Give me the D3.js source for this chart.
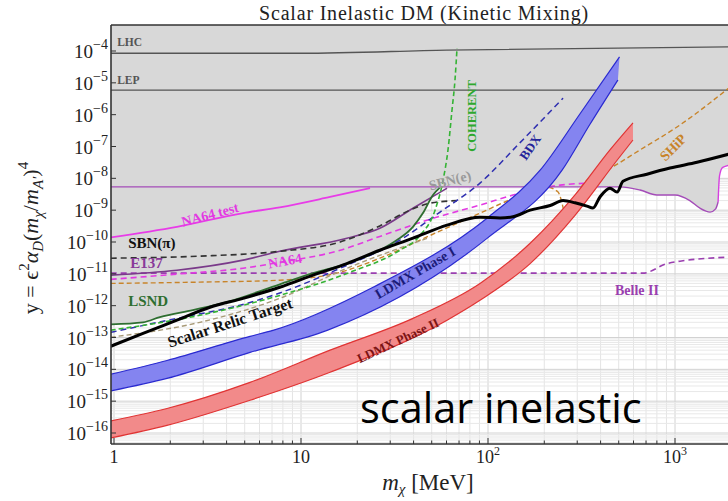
<!DOCTYPE html>
<html>
<head>
<meta charset="utf-8">
<script src="https://cdn.jsdelivr.net/npm/d3@7"></script>
<style>
  html, body { margin: 0; padding: 0; background: #fff; }
  svg { display: block; }
</style>
</head>
<body>
<svg id="chart" width="728" height="501"></svg>
<script>
// ---------- data: [dark-matter mass m_chi (MeV), y] ----------
const xMajorTicks = [1, 10, 100, 1000];
const xTickText = [["1", ""], ["10", ""], ["10", "2"], ["10", "3"]];
const yExponents = [-4, -5, -6, -7, -8, -9, -10, -11, -12, -13, -14, -15, -16];

const lhc = [[0.96, 8.5e-5], [10, 8.5e-5], [60, 1.07e-4], [2100, 1.36e-4]];
const lep = [[0.96, 5.9e-6], [2100, 5.9e-6]];
const babar = [[0.96, 5.4e-9], [508, 5.4e-9], [650, 4.3e-9], [800, 3.0e-9], [1000, 3.0e-9],
               [1200, 2.0e-9], [1360, 1.15e-9], [1540, 8.7e-10], [1650, 1.1e-9], [1700, 1.8e-9]];
const babarEdge = [[1700, 1.8e-9], [1730, 1.2e-8], [1800, 2.2e-8], [2100, 2.8e-8]];
const lsnd = [[0.96, 2.6e-13], [1.43, 3.0e-13], [1.76, 4.4e-13], [2.64, 7.3e-13], [4.02, 1.3e-12],
              [7.7, 4.7e-12], [11.6, 1.05e-11], [17.6, 2.1e-11], [26.4, 5.5e-11], [32.6, 1.15e-10],
              [39.7, 3.0e-10], [44.9, 8.1e-10], [50.8, 3.0e-9], [55.4, 5.2e-9]];
const e137 = [[0.96, 9.1e-12], [2.17, 1.3e-11], [4.9, 2.7e-11], [7.7, 5.1e-11], [17.6, 1.32e-10],
              [26.4, 2.7e-10], [39.7, 1.15e-9], [49, 2.4e-9], [60.4, 4.9e-9]];
const sbnPi = [[0.96, 3.1e-11], [2.88, 3.6e-11], [7.7, 5.1e-11], [16.2, 1.0e-10], [26.4, 3.2e-10],
               [38.2, 1.0e-9], [49, 1.66e-9], [68.3, 2.0e-9]];
const na64Test = [[0.96, 1.4e-10], [2.17, 3.0e-10], [4.9, 8.1e-10], [7.7, 1.23e-9], [14.3, 2.6e-9], [23.4, 4.9e-9]];
const na64 = [[0.96, 6.7e-12], [2.17, 9.8e-12], [4.9, 1.5e-11], [7.7, 2.3e-11], [16.2, 5.5e-11],
              [26.4, 1.5e-10], [49, 5.2e-10], [90.6, 1.45e-9], [148, 3.4e-9], [243, 6.1e-9], [351, 7.1e-9]];
const belle2 = [[0.96, 1.05e-11], [674, 1.05e-11], [906, 2.1e-11], [1063, 2.5e-11], [2100, 3.4e-11]];
const coherent = [[0.96, 1.7e-13], [2.88, 5.0e-13], [7.7, 2.1e-12], [18.3, 1.12e-11], [33.8, 5.5e-11],
                  [43.3, 1.6e-10], [52.1, 1.0e-9], [57.5, 8.7e-9], [61.1, 7.8e-8], [64.2, 1.4e-6],
                  [66.6, 1.23e-5], [68.3, 1.24e-4]];
const bdx = [[0.96, 1.45e-13], [2.17, 4.0e-13], [4.72, 1.03e-12], [7.7, 2.5e-12], [16.2, 1.5e-11],
             [33.8, 1.15e-10], [55.4, 8.7e-10], [90.6, 7.1e-9], [148, 1.3e-7], [252, 3.3e-6]];
const tanCurve = [[0.96, 1.02e-13], [2.88, 3.0e-13], [7.7, 1.7e-12], [17.6, 1.5e-11], [33.8, 6.5e-11], [49, 1.4e-10]];
const ship = [[0.96, 5.0e-12], [2.88, 5.5e-12], [7.7, 6.3e-12], [16.2, 1.12e-11], [26.4, 3.1e-11],
              [49, 1.6e-10], [90.6, 8.1e-10], [148, 2.8e-9], [207, 5.3e-9], [237, 3.7e-9], [252, 1.2e-9],
              [261, 4.2e-10], [281, 1.45e-9], [330, 7.6e-9], [433, 1.8e-8], [650, 7.8e-8], [1025, 4.1e-7],
              [2100, 1.0e-5]];
const relic = [[0.96, 5.3e-14], [1.43, 1.35e-13], [2.17, 3.5e-13], [3.26, 8.9e-13], [4.9, 1.7e-12],
               [7.7, 3.8e-12], [11.6, 9.1e-12], [17.6, 2.1e-11], [26.4, 5.5e-11], [39.7, 1.32e-10],
               [60.4, 3.4e-10], [90.6, 6.0e-10], [116, 5.7e-10], [136, 6.2e-10], [168, 1.0e-9],
               [215, 1.4e-9], [252, 2.0e-9], [292, 1.7e-9], [338, 1.34e-9], [364, 1.16e-9],
               [397, 2.6e-9], [449, 4.9e-9], [490, 3.7e-9], [527, 8.1e-9], [708, 1.35e-8],
               [940, 2.1e-8], [1312, 3.2e-8], [2100, 6.5e-8]];
const ldmx1Upper = [[0.96, 7.0e-15], [1.92, 1.9e-14], [5.34, 1.09e-13], [7.08, 1.68e-13], [24.3, 3.8e-12],
                    [98.8, 5.6e-10], [190, 1.8e-8], [310, 1.05e-6], [505, 6.5e-5]];
const ldmx1Lower = [[0.96, 2.1e-15], [1.92, 5.2e-15], [5.34, 3.4e-14], [13.8, 1.68e-13], [98.8, 1.3e-10],
                    [249, 1.8e-8], [351, 5.0e-7], [495, 1.23e-5]];
const ldmx2Upper = [[0.96, 2.4e-16], [1.92, 5.9e-16], [5.34, 3.9e-15], [14.3, 4.0e-14], [39.7, 4.0e-13],
                    [90.6, 5.0e-12], [168, 9.1e-11], [292, 3.0e-9], [449, 7.8e-8], [596, 5.5e-7]];
const ldmx2Lower = [[0.96, 7.0e-17], [1.92, 1.74e-16], [5.34, 1.07e-15], [14.3, 8.1e-15], [60.4, 3.5e-13],
                    [90.6, 1.48e-12], [168, 2.1e-11], [292, 6.9e-10], [490, 3.7e-8], [596, 1.6e-7]];

// curve labels: text, anchor mass, anchor y, rotation (deg)
const curveLabels = [
  ["LHC", 1.04, 1.4e-4, 0], ["LEP", 1.04, 9.1e-6, 0],
  ["SBN(\u03c0)", 1.19, 6.5e-11, 0], ["E137", 1.22, 1.5e-11, 0], ["LSND", 1.19, 9.6e-13, 0],
  ["NA64 test", 3.26, 7.4e-10, -15], ["NA64", 8.2, 2.6e-11, -10],
  ["Scalar Relic Target", 4.17, 3.0e-13, -18], ["LDMX Phase I", 40.7, 1.1e-11, -30],
  ["LDMX Phase II", 33, 8.1e-14, -25], ["BDX", 168, 9.5e-8, -55], ["COHERENT", 82, 9.1e-7, -90],
  ["SBN(e)", 62.6, 8.7e-9, -15], ["SHiP", 975, 9.5e-8, -45], ["Belle II", 626, 3.0e-12, 0]
];
const labelColors = {
  "LHC": "#555", "LEP": "#555", "SBN(\u03c0)": "#111", "E137": "#8a3a9a", "LSND": "#2e6e30",
  "NA64 test": "#e23ae2", "NA64": "#e23ae2", "Scalar Relic Target": "#111", "LDMX Phase I": "#1c1c78",
  "LDMX Phase II": "#7d1414", "BDX": "#24249a", "COHERENT": "#2ea82e", "SBN(e)": "#9a9a9a",
  "SHiP": "#c8842a", "Belle II": "#9a3fb0"
};
const labelSizes = { "LHC": 11.5, "LEP": 11.5, "SBN(\u03c0)": 15, "E137": 15, "LSND": 15, "NA64 test": 14,
  "NA64": 14, "Scalar Relic Target": 16, "LDMX Phase I": 14, "LDMX Phase II": 13, "BDX": 13,
  "COHERENT": 12.5, "SBN(e)": 14, "SHiP": 14, "Belle II": 14 };

// ---------- layout ----------
const svg = d3.select("#chart");
const pLeft = 111, pRight = 748, pTop = 25, pBottom = 444;
const serif = "'Liberation Serif', 'Times New Roman', serif";

const x = d3.scaleLog().domain([1, 1000]).range([114, 675]);
const y = d3.scaleLog().domain([1e-4, 1e-16]).range([51, 433]);

svg.append("defs").append("clipPath").attr("id", "plotClip")
  .append("rect").attr("x", pLeft).attr("y", pTop).attr("width", pRight - pLeft).attr("height", pBottom - pTop);

const plot = svg.append("g").attr("clip-path", "url(#plotClip)");

// grid
const xMin = x.invert(pLeft), xMax = x.invert(pRight);
const xGrid = [];
for (let k = -1; k <= 3; k++) for (let j = 1; j <= 9; j++) {
  const v = j * Math.pow(10, k);
  if (v >= xMin && v <= xMax) xGrid.push(v);
}
const yGrid = [];
for (let k = -17; k <= -3; k++) for (let j = 1; j <= 9; j++) yGrid.push(j * Math.pow(10, k));
const isDecade = d => Math.abs(Math.log10(d) - Math.round(Math.log10(d))) < 1e-9;

plot.selectAll(".gx").data(xGrid).join("line")
  .attr("x1", d => x(d)).attr("x2", d => x(d)).attr("y1", pTop).attr("y2", pBottom)
  .attr("stroke", d => (isDecade(d) ? "#d2d2d2" : "#e4e4e4")).attr("stroke-width", 1);
plot.selectAll(".gy").data(yGrid).join("line")
  .attr("x1", pLeft).attr("x2", pRight).attr("y1", d => y(d)).attr("y2", d => y(d))
  .attr("stroke", d => (isDecade(d) ? "#d2d2d2" : "#e8e8e8")).attr("stroke-width", 1);

const line = d3.line().x(d => x(d[0])).y(d => y(d[1])).curve(d3.curveMonotoneX);

// excluded (grey) region above the existing-limit envelope
const envelope = lsnd.concat(babar.filter(d => d[0] > 60), babarEdge.slice(1));
plot.append("path")
  .attr("d", line(envelope) + `L${pRight},${pTop}L${pLeft},${pTop}Z`)
  .attr("fill", "#d8d8d8");

// collider limits
plot.append("path").attr("d", line(lhc)).attr("fill", "none").attr("stroke", "#555").attr("stroke-width", 1.3);
plot.append("path").attr("d", line(lep)).attr("fill", "none").attr("stroke", "#555").attr("stroke-width", 1.3);

function curve(data, color, width, dash) {
  plot.append("path").attr("d", line(data)).attr("fill", "none")
    .attr("stroke", color).attr("stroke-width", width)
    .attr("stroke-dasharray", dash || null);
}

curve(belle2, "#9a3fb0", 1.6, "6,4");
curve(ship, "#c8842a", 1.4, "5,3");
curve(tanCurve, "#a89a78", 1.4, "5,3");
curve(na64, "#e23ae2", 1.6, "6,4");
curve(e137, "#7a3a8a", 1.6);
curve(sbnPi, "#333", 1.6, "6,4");
curve(na64Test, "#e83ce8", 1.8);
curve(babar, "#a44cb8", 1.4);
curve(babarEdge, "#d640e0", 1.4);
curve(lsnd, "#2e6e30", 1.8);
curve(bdx, "#2f2fb0", 1.5, "6,4");
curve(coherent, "#35b335", 1.6, "5,3");

// LDMX projection bands
function band(upper, lower, fill, stroke) {
  const d = line(upper) + line(lower.slice().reverse()).replace(/^M/, "L") + "Z";
  plot.append("path").attr("d", d).attr("fill", fill).attr("stroke", "none");
  plot.append("path").attr("d", line(upper)).attr("fill", "none").attr("stroke", stroke).attr("stroke-width", 1.2);
  plot.append("path").attr("d", line(lower)).attr("fill", "none").attr("stroke", stroke).attr("stroke-width", 1.2);
}
band(ldmx1Upper, ldmx1Lower, "#8484f0", "#2a2ad0");
band(ldmx2Upper, ldmx2Lower, "#f28a8a", "#e03434");

// thermal relic target
curve(relic, "#000", 3);

// curve labels
curveLabels.forEach(([t, m, v, rot]) => {
  const startAnchored = rot === 0 && ["LHC", "LEP", "SBN(\u03c0)", "E137", "LSND"].includes(t);
  plot.append("text")
    .attr("transform", `translate(${x(m)},${y(v)}) rotate(${rot})`)
    .attr("text-anchor", startAnchored ? "start" : "middle")
    .attr("dy", startAnchored ? 0 : "0.35em")
    .style("font-family", serif).style("font-weight", "bold")
    .style("font-size", labelSizes[t] + "px")
    .attr("fill", labelColors[t]).text(t);
});

// ---------- axes ----------
const axisColor = "#333";
svg.append("line").attr("x1", pLeft).attr("x2", 728).attr("y1", pTop).attr("y2", pTop).attr("stroke", axisColor).attr("stroke-width", 1.6);
svg.append("line").attr("x1", pLeft).attr("x2", 728).attr("y1", pBottom).attr("y2", pBottom).attr("stroke", axisColor).attr("stroke-width", 1.6);
svg.append("line").attr("x1", pLeft).attr("x2", pLeft).attr("y1", pTop).attr("y2", pBottom).attr("stroke", axisColor).attr("stroke-width", 1.6);

// x ticks (inward)
svg.selectAll(".xt").data(xGrid.filter(d => d >= 1)).join("line")
  .attr("x1", d => x(d)).attr("x2", d => x(d))
  .attr("y1", pBottom).attr("y2", d => pBottom - (xMajorTicks.includes(d) ? 6 : 3.5))
  .attr("stroke", axisColor).attr("stroke-width", 1);
xMajorTicks.forEach((v, i) => {
  const t = svg.append("text").attr("x", x(v)).attr("y", 463).attr("text-anchor", "middle")
    .style("font-family", serif).style("font-size", "18px").attr("fill", "#222");
  t.append("tspan").text(xTickText[i][0]);
  if (xTickText[i][1]) t.append("tspan").attr("dy", -8).style("font-size", "12px").text(xTickText[i][1]);
});

// y ticks (inward)
yExponents.forEach(e => {
  const py = y(Math.pow(10, e));
  svg.append("line").attr("x1", pLeft).attr("x2", pLeft + 5).attr("y1", py).attr("y2", py)
    .attr("stroke", axisColor).attr("stroke-width", 1);
  const t = svg.append("text").attr("x", 108).attr("y", py + 7).attr("text-anchor", "end")
    .style("font-family", serif).style("font-size", "19px").attr("fill", "#222");
  t.append("tspan").text("10");
  t.append("tspan").attr("dy", -9).style("font-size", "14px").text("\u2212" + Math.abs(e));
});

// title
svg.append("text").attr("x", 424).attr("y", 20).attr("text-anchor", "middle")
  .style("font-family", serif).style("font-size", "20px").style("letter-spacing", "0.8px").attr("fill", "#222")
  .text("Scalar Inelastic DM (Kinetic Mixing)");

// x-axis title
const xt = svg.append("text").attr("x", 428).attr("y", 490).attr("text-anchor", "middle")
  .style("font-family", serif).style("font-size", "23px").attr("fill", "#222");
xt.append("tspan").style("font-style", "italic").text("m");
xt.append("tspan").attr("dy", 4).style("font-size", "15px").style("font-style", "italic").text("\u03c7");
xt.append("tspan").attr("dy", -4).text(" [MeV]");

// y-axis title
const yt = svg.append("text").attr("transform", "translate(38,238) rotate(-90)").attr("text-anchor", "middle")
  .style("font-family", serif).style("font-size", "22px").attr("fill", "#222");
yt.append("tspan").text("y = \u03f5");
yt.append("tspan").attr("dy", -9).style("font-size", "15px").text("2");
yt.append("tspan").attr("dy", 9).style("font-style", "italic").text("\u03b1");
yt.append("tspan").attr("dy", 5).style("font-size", "15px").style("font-style", "italic").text("D");
yt.append("tspan").attr("dy", -5).text("(");
yt.append("tspan").style("font-style", "italic").text("m");
yt.append("tspan").attr("dy", 5).style("font-size", "15px").style("font-style", "italic").text("\u03c7");
yt.append("tspan").attr("dy", -5).text("/");
yt.append("tspan").style("font-style", "italic").text("m");
yt.append("tspan").attr("dy", 5).style("font-size", "15px").style("font-style", "italic").text("A\u2032");
yt.append("tspan").attr("dy", -5).text(")");
yt.append("tspan").attr("dy", -10).style("font-size", "15px").text("4");

// slide caption
svg.append("text").attr("x", 360).attr("y", 423)
  .style("font-family", "'Open Sans', 'Noto Sans', sans-serif").style("font-size", "41.5px").attr("fill", "#000")
  .text("scalar inelastic");
</script>
</body>
</html>
